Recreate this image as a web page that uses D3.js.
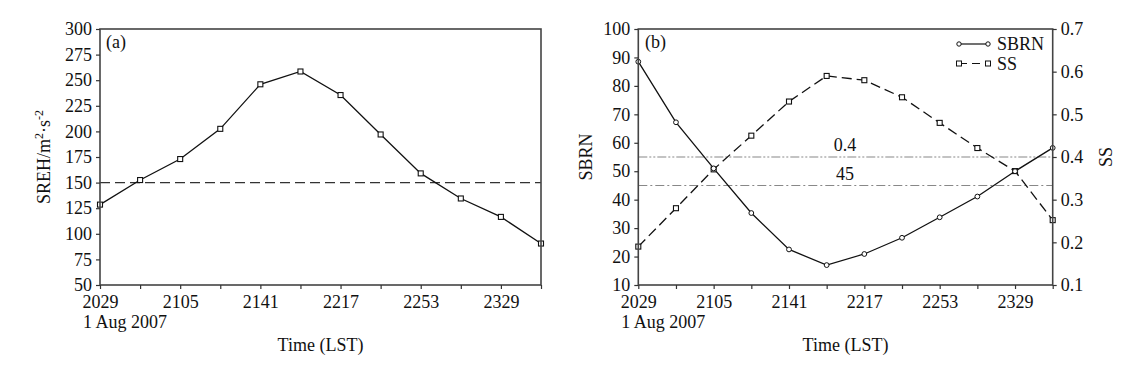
<!DOCTYPE html>
<html><head><meta charset="utf-8">
<script src="https://cdn.jsdelivr.net/npm/d3@7"></script>
<style>
html,body{margin:0;padding:0;background:#fff;}
svg text{font-family:"Liberation Serif","Times New Roman",serif;fill:#111;}
</style></head>
<body><svg id="c" width="1130" height="367"></svg>
<script>
const times = ["2029","2047","2105","2123","2141","2159","2217","2235","2253","2311","2329","2347"];
const sreh = [128.5,152.5,173,202.5,246,258.5,235.5,197,159,134.5,116.5,90.5];
const sbrn = [88.5,67.2,51,35.3,22.5,17,20.9,26.6,33.8,41.1,50,58.2];
const ss = [0.19,0.28,0.371,0.45,0.53,0.59,0.58,0.54,0.48,0.421,0.367,0.252];
const srehTicks = [50,75,100,125,150,175,200,225,250,275,300];
const sbrnTicks = [10,20,30,40,50,60,70,80,90,100];
const ssTicks = [0.1,0.2,0.3,0.4,0.5,0.6,0.7];
const srehThreshold = 150, sbrnThreshold = 45, ssThreshold = 0.4;

const svg = d3.select("#c");
const FS = 18;
const pTop = 29, pBottom = 285;

function xAxis(g, x){
  const ax = d3.axisBottom(x).tickSize(4).tickSizeOuter(0)
    .tickFormat((d,i)=> i%2===0 ? d : "");
  g.call(ax);
  g.attr("font-family",null);
  g.select(".domain").remove();
  g.selectAll(".tick line").attr("stroke","#333").attr("stroke-width",1.2);
  g.selectAll(".tick text").attr("font-size",FS).attr("dy","0.71em").attr("y",10.5)
    .style("font-family","Liberation Serif");
}
function styleY(g){
  g.attr("font-family",null);
  g.select(".domain").remove();
  g.selectAll(".tick line").attr("stroke","#333").attr("stroke-width",1.2);
  g.selectAll(".tick text").attr("font-size",FS).style("font-family","Liberation Serif");
}
function squares(g, data, x, y, cls){
  g.selectAll("rect."+cls).data(data).join("rect").attr("class",cls)
    .attr("x",(d,i)=>x(times[i])-2.5).attr("y",d=>y(d)-2.5)
    .attr("width",5).attr("height",5).attr("fill","#fff").attr("stroke","#111").attr("stroke-width",1.1);
}
function circles(g, data, x, y){
  g.selectAll("circle.c").data(data).join("circle").attr("class","c")
    .attr("cx",(d,i)=>x(times[i])).attr("cy",d=>y(d)).attr("r",2.4)
    .attr("fill","#fff").attr("stroke","#111").attr("stroke-width",1);
}

// ---------- Panel (a) ----------
{
  const L = 100, R = 541;
  const x = d3.scalePoint().domain(times).range([L,R]).padding(0);
  const y = d3.scaleLinear().domain([50,300]).range([pBottom,pTop]);
  const g = svg.append("g");
  g.append("line").attr("x1",L).attr("x2",R).attr("y1",y(srehThreshold)).attr("y2",y(srehThreshold))
    .attr("stroke","#333").attr("stroke-width",1.1).attr("stroke-dasharray","10,5");
  const line = d3.line().x((d,i)=>x(times[i])).y(d=>y(d));
  g.append("path").attr("d",line(sreh)).attr("fill","none").attr("stroke","#111").attr("stroke-width",1.3);
  squares(g, sreh, x, y, "s");
  g.append("rect").attr("x",L).attr("y",pTop).attr("width",R-L).attr("height",pBottom-pTop)
    .attr("fill","none").attr("stroke","#444").attr("stroke-width",1.6);
  xAxis(g.append("g").attr("transform",`translate(0,${pBottom})`), x);
  styleY(g.append("g").attr("transform",`translate(${L},0)`).call(d3.axisLeft(y).tickValues(srehTicks).tickSize(4).tickSizeOuter(0).tickPadding(4)));
  g.append("text").attr("x",L).attr("y",328).attr("font-size",FS).attr("text-anchor","start").attr("dx","-17").text("1 Aug 2007");
  g.append("text").attr("x",(L+R)/2).attr("y",351).attr("font-size",FS).attr("text-anchor","middle").text("Time (LST)");
  g.append("text").attr("x",106).attr("y",48).attr("font-size",FS).text("(a)");
  const t = g.append("text").attr("transform",`translate(50,${(pTop+pBottom)/2}) rotate(-90)`)
    .attr("font-size",FS).attr("text-anchor","middle");
  t.append("tspan").text("SREH/m");
  t.append("tspan").attr("dy",-7).attr("font-size",12).text("2");
  t.append("tspan").attr("dy",7).text("·s");
  t.append("tspan").attr("dy",-7).attr("font-size",12).text("-2");
}

// ---------- Panel (b) ----------
{
  const L = 638.3, R = 1052.7;
  const x = d3.scalePoint().domain(times).range([L,R]).padding(0);
  const y = d3.scaleLinear().domain([10,100]).range([pBottom,pTop]);
  const y2 = d3.scaleLinear().domain([0.1,0.7]).range([pBottom,pTop]);
  const g = svg.append("g");
  g.append("line").attr("x1",L).attr("x2",R).attr("y1",y2(ssThreshold)).attr("y2",y2(ssThreshold))
    .attr("stroke","#888").attr("stroke-width",1.1).attr("stroke-dasharray","9,2,2,2,2,2");
  g.append("line").attr("x1",L).attr("x2",R).attr("y1",y(sbrnThreshold)).attr("y2",y(sbrnThreshold))
    .attr("stroke","#888").attr("stroke-width",1.1).attr("stroke-dasharray","9,3,2,3");
  g.append("text").attr("x",845).attr("y",151).attr("font-size",FS).attr("text-anchor","middle").text("0.4");
  g.append("text").attr("x",845).attr("y",180).attr("font-size",FS).attr("text-anchor","middle").text(String(sbrnThreshold));
  const l1 = d3.line().x((d,i)=>x(times[i])).y(d=>y(d));
  const l2 = d3.line().x((d,i)=>x(times[i])).y(d=>y2(d));
  g.append("path").attr("d",l2(ss)).attr("fill","none").attr("stroke","#111").attr("stroke-width",1.3).attr("stroke-dasharray","10,5");
  g.append("path").attr("d",l1(sbrn)).attr("fill","none").attr("stroke","#111").attr("stroke-width",1.3);
  squares(g, ss, x, y2, "s");
  circles(g, sbrn, x, y);
  g.append("rect").attr("x",L).attr("y",pTop).attr("width",R-L).attr("height",pBottom-pTop)
    .attr("fill","none").attr("stroke","#444").attr("stroke-width",1.6);
  xAxis(g.append("g").attr("transform",`translate(0,${pBottom})`), x);
  styleY(g.append("g").attr("transform",`translate(${L},0)`).call(d3.axisLeft(y).tickValues(sbrnTicks).tickSize(4).tickSizeOuter(0).tickPadding(4)));
  styleY(g.append("g").attr("transform",`translate(${R},0)`).call(d3.axisRight(y2).tickValues(ssTicks).tickFormat(d3.format(".1f")).tickSize(4).tickSizeOuter(0).tickPadding(4)));
  g.append("text").attr("x",L).attr("y",328).attr("font-size",FS).attr("text-anchor","start").attr("dx","-17").text("1 Aug 2007");
  g.append("text").attr("x",(L+R)/2).attr("y",351).attr("font-size",FS).attr("text-anchor","middle").text("Time (LST)");
  g.append("text").attr("x",645).attr("y",48).attr("font-size",FS).text("(b)");
  g.append("text").attr("transform",`translate(592,${(pTop+pBottom)/2}) rotate(-90)`).attr("font-size",FS).attr("text-anchor","middle").text("SBRN");
  g.append("text").attr("transform",`translate(1112,${(pTop+pBottom)/2}) rotate(-90)`).attr("font-size",FS).attr("text-anchor","middle").text("SS");
  const lg = g.append("g");
  lg.append("line").attr("x1",959).attr("x2",988).attr("y1",44).attr("y2",44).attr("stroke","#111").attr("stroke-width",1.2);
  [959,988].forEach(cx=>lg.append("circle").attr("cx",cx).attr("cy",44).attr("r",2.2).attr("fill","#fff").attr("stroke","#111"));
  lg.append("text").attr("x",997).attr("y",50).attr("font-size",FS).text("SBRN");
  lg.append("line").attr("x1",959).attr("x2",988).attr("y1",63.5).attr("y2",63.5).attr("stroke","#111").attr("stroke-width",1.2).attr("stroke-dasharray","8,5");
  [959,988].forEach(cx=>lg.append("rect").attr("x",cx-2.5).attr("y",61).attr("width",5).attr("height",5).attr("fill","#fff").attr("stroke","#111"));
  lg.append("text").attr("x",997).attr("y",70).attr("font-size",FS).text("SS");
}
</script></body></html>
